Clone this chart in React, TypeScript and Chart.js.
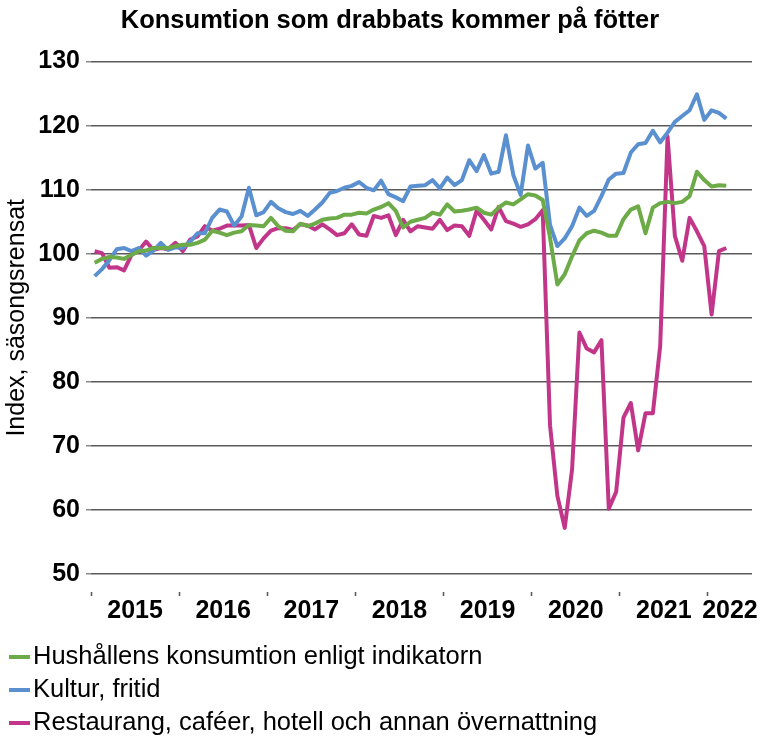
import React, { useEffect, useRef } from 'react';
import { Chart, registerables } from 'chart.js';

Chart.register(...registerables);

const FAMILY = '"Liberation Sans", Arial, Helvetica, sans-serif';

const chartTitle = 'Konsumtion som drabbats kommer på fötter';
const yAxisTitle = 'Index, säsongsrensat';
const years = ['2015', '2016', '2017', '2018', '2019', '2020', '2021', '2022'];
const monthsOnAxis = 90; // Jan 2015 – Jun 2022
const yTicks = { min: 50, max: 130, step: 10 };

const seriesNames = [
  'Hushållens konsumtion enligt indikatorn',
  'Kultur, fritid',
  'Restaurang, caféer, hotell och annan övernattning',
];
const seriesColors = ['#6CAB47', '#5A8FD0', '#C2368A'];

// Monthly values Jan 2015 – Mar 2022
const hushall = [
  98.6, 99.2, 99.5, 99.4, 99.2, 99.8, 100.4, 100.5, 100.9, 100.9, 100.9, 101.2,
  101.4, 101.4, 101.7, 102.2, 103.6, 103.3, 102.9, 103.3, 103.5, 104.5, 104.4, 104.3,
  105.6, 104.3, 103.6, 103.5, 104.7, 104.3, 104.7, 105.3, 105.5, 105.6, 106.1, 106.1,
  106.4, 106.3, 106.9, 107.3, 107.9, 106.7, 104.1, 105.0, 105.3, 105.6, 106.4, 106.1,
  107.7, 106.6, 106.7, 106.9, 107.2, 106.4, 106.1, 107.2, 108.0, 107.7, 108.5, 109.3,
  109.1, 108.4, 102.5, 95.2, 96.8, 99.6, 102.1, 103.2, 103.6, 103.3, 102.8, 102.8,
  105.4, 106.9, 107.4, 103.2, 107.2, 107.9, 108.1, 107.9, 108.1, 109.0, 112.8, 111.5,
  110.5, 110.7, 110.6,
];
const kultur = [
  96.5, 97.6, 99.0, 100.7, 100.9, 100.4, 100.9, 99.7, 100.5, 101.7, 100.6, 101.0,
  100.9, 101.9, 103.2, 103.2, 105.6, 106.9, 106.6, 104.4, 105.8, 110.3, 106.0, 106.5,
  108.1, 107.1, 106.5, 106.2, 106.7, 105.9, 106.9, 108.0, 109.5, 109.8, 110.3, 110.6,
  111.2, 110.3, 109.9, 111.4, 109.3, 108.8, 108.2, 110.5, 110.6, 110.7, 111.5, 110.2,
  111.9, 110.7, 111.5, 114.6, 112.9, 115.4, 112.5, 112.8, 118.5, 112.3, 109.2, 116.9,
  113.3, 114.2, 104.5, 101.2, 102.4, 104.3, 107.2, 105.9, 106.7, 109.0, 111.6, 112.5,
  112.6, 115.8, 117.1, 117.3, 119.2, 117.4, 118.9, 120.6, 121.5, 122.4, 124.9, 120.9,
  122.4, 122.0, 121.1,
];
const restaurang = [
  100.4, 100.1, 97.8, 97.9, 97.4, 99.8, 100.5, 101.9, 100.6, 100.9, 100.7, 101.7,
  100.4, 102.2, 102.7, 104.3, 103.6, 103.9, 104.4, 104.4, 104.4, 104.5, 100.9, 102.4,
  103.6, 104.0, 104.0, 103.7, 104.6, 104.4, 103.8, 104.6, 103.8, 102.9, 103.2, 104.6,
  103.0, 102.8, 105.9, 105.6, 106.0, 102.9, 105.3, 103.5, 104.3, 104.1, 103.9, 105.3,
  103.7, 104.4, 104.3, 102.8, 106.7, 105.3, 103.8, 107.3, 105.1, 104.7, 104.2, 104.6,
  105.4, 106.8, 73.2, 62.2, 57.2, 66.3, 87.7, 85.2, 84.6, 86.5, 60.2, 62.8,
  74.4, 76.7, 69.3, 75.1, 75.1, 85.6, 118.3, 102.8, 98.9, 105.6, 103.5, 101.2,
  90.5, 100.4, 100.9,
];

const seriesValues = [hushall, kultur, restaurang];

const rowLegend = {
  id: 'rowLegend',
  afterDraw(chart: any) {
    const ctx = chart.ctx;
    ctx.save();
    chart.data.datasets.forEach((ds: any, i: number) => {
      const y = 657 + i * 33;
      ctx.strokeStyle = ds.borderColor;
      ctx.lineWidth = 4;
      ctx.lineCap = 'butt';
      ctx.beginPath();
      ctx.moveTo(9, y);
      ctx.lineTo(30, y);
      ctx.stroke();
      ctx.fillStyle = '#000';
      ctx.font = `25.5px ${FAMILY}`;
      ctx.textBaseline = 'middle';
      ctx.textAlign = 'left';
      ctx.fillText(ds.label, 33, y);
    });
    ctx.restore();
  },
};

export default function App() {
  const ref = useRef<HTMLCanvasElement | null>(null);

  useEffect(() => {
    if (!ref.current) return;
    Chart.defaults.font.family = FAMILY;
    const chart = new Chart(ref.current, {
      type: 'line',
      data: {
        datasets: seriesValues.map((vals, s) => ({
          label: seriesNames[s],
          data: vals.map((v, i) => ({ x: i + 0.5, y: v })),
          borderColor: seriesColors[s],
          backgroundColor: seriesColors[s],
          borderWidth: 4,
          pointRadius: 0,
          fill: false,
          tension: 0,
          borderJoinStyle: 'round' as const,
        })),
      },
      options: {
        animation: false,
        responsive: true,
        maintainAspectRatio: false,
        layout: { padding: { left: 28, right: 17, top: 0, bottom: 110 } },
        plugins: {
          legend: { display: false },
          tooltip: { enabled: false },
          title: {
            display: true,
            text: chartTitle,
            color: '#000',
            font: { size: 25.5, weight: 'bold', family: FAMILY },
            padding: { top: 6, bottom: 25 },
          },
        },
        scales: {
          x: {
            type: 'linear',
            min: 0,
            max: monthsOnAxis,
            border: { display: false },
            grid: {
              display: true,
              drawOnChartArea: false,
              drawTicks: true,
              tickLength: 22,
              tickWidth: 1.5,
              tickColor: (c: any) =>
                c.tick && c.tick.value % 12 === 0 ? '#555' : 'rgba(0,0,0,0)',
              tickBorderDash: [0, 18, 5, 100],
            },
            afterBuildTicks: (scale: any) => {
              const t: any[] = [];
              years.forEach((_, k) => {
                t.push({ value: k * 12 });
                t.push({ value: k * 12 + (k === years.length - 1 ? 3 : 6) });
              });
              scale.ticks = t;
            },
            ticks: {
              autoSkip: false,
              maxRotation: 0,
              minRotation: 0,
              padding: 0,
              color: '#000',
              font: { size: 25, weight: 'bold', family: FAMILY },
              callback: (v: any) => {
                const n = Number(v);
                if (n % 12 === 0) return '';
                return years[Math.floor(n / 12)];
              },
            },
            afterFit: (scale: any) => {
              scale.height = 54;
            },
          },
          y: {
            min: yTicks.min,
            max: yTicks.max,
            border: { display: false },
            grid: {
              color: '#5a5a5a',
              lineWidth: 1.5,
              tickLength: 5,
              tickColor: '#8a8a8a',
            },
            ticks: {
              stepSize: yTicks.step,
              padding: 6,
              color: '#000',
              font: { size: 25, weight: 'bold', family: FAMILY },
            },
            title: {
              display: true,
              text: yAxisTitle,
              color: '#000',
              font: { size: 25, family: FAMILY },
              padding: { top: -26, bottom: 0 },
            },
            afterFit: (scale: any) => {
              scale.width = 63;
            },
          },
        },
      },
      plugins: [rowLegend],
    } as any);
    return () => chart.destroy();
  }, []);

  return (
    <div style={{ position: 'absolute', left: 0, top: 0, width: 769, height: 738 }}>
      <canvas ref={ref} />
    </div>
  );
}
